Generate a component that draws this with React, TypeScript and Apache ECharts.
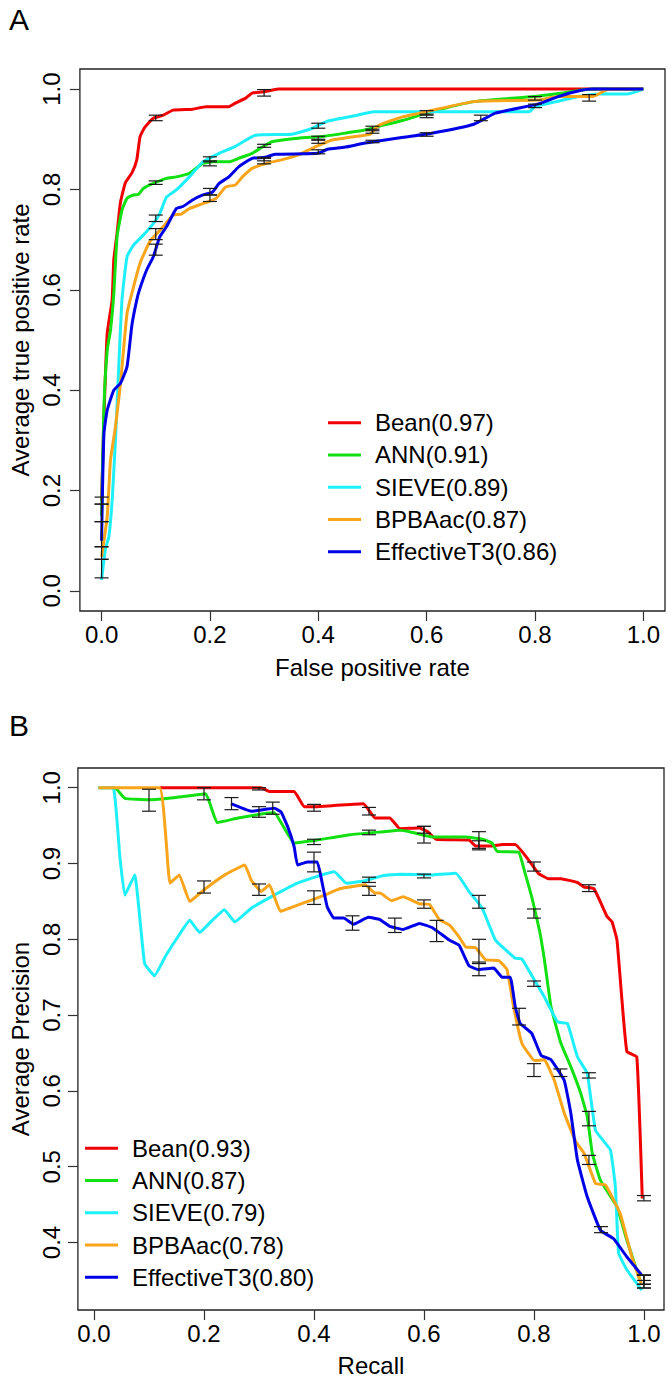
import React, { useEffect, useRef } from "react";
import * as echarts from "echarts";

const FONT = "'Liberation Sans', Arial, Helvetica, sans-serif";

const methods = ["Bean", "ANN", "SIEVE", "BPBAac", "EffectiveT3"];
const colors = ["#f00000", "#12e012", "#1ef0fa", "#f8a51c", "#0000e6"];
const rocAuc = ["0.97", "0.91", "0.89", "0.87", "0.86"];
const prAuc = ["0.93", "0.87", "0.79", "0.78", "0.80"];

const xTicks = [0, 0.2, 0.4, 0.6, 0.8, 1.0];
const rocYTicks = [0, 0.2, 0.4, 0.6, 0.8, 1.0];
const prYTicks = [0.4, 0.5, 0.6, 0.7, 0.8, 0.9, 1.0];

// ---- Panel A: ROC curves [false positive rate, average true positive rate]
const rocBean = [
  [0, 0.18], [0.0044, 0.347], [0.0104, 0.513], [0.0195, 0.58], [0.0226, 0.66], [0.0286, 0.713],
  [0.0347, 0.773], [0.0438, 0.813], [0.056, 0.833], [0.065, 0.859], [0.071, 0.905], [0.08, 0.924],
  [0.0955, 0.942], [0.114, 0.948], [0.132, 0.958], [0.168, 0.96], [0.193, 0.965], [0.235, 0.965],
  [0.247, 0.972], [0.266, 0.982], [0.278, 0.992], [0.302, 0.995], [0.326, 1.0], [1.0, 1.0],
];
const rocANN = [
  [0, 0.15], [0.0044, 0.367], [0.0104, 0.48], [0.0165, 0.52], [0.0226, 0.593], [0.0286, 0.706],
  [0.0377, 0.759], [0.0468, 0.782], [0.059, 0.789], [0.068, 0.79], [0.077, 0.802], [0.0955, 0.812],
  [0.12, 0.822], [0.138, 0.825], [0.162, 0.832], [0.174, 0.842], [0.187, 0.852], [0.205, 0.855],
  [0.235, 0.855], [0.253, 0.862], [0.278, 0.872], [0.296, 0.884], [0.314, 0.895], [0.363, 0.902],
  [0.411, 0.906], [0.454, 0.913], [0.484, 0.918], [0.508, 0.925], [0.557, 0.938], [0.609, 0.955],
  [0.687, 0.975], [0.797, 0.985], [0.843, 0.991], [0.906, 1.0], [1.0, 1.0],
];
const rocSIEVE = [
  [0, 0.022], [0.0073, 0.085], [0.0135, 0.108], [0.0195, 0.18], [0.0256, 0.3], [0.0317, 0.447],
  [0.0377, 0.58], [0.047, 0.666], [0.059, 0.689], [0.077, 0.709], [0.0955, 0.732], [0.1075, 0.752],
  [0.12, 0.785], [0.138, 0.799], [0.162, 0.825], [0.187, 0.855], [0.217, 0.872], [0.247, 0.886],
  [0.284, 0.908], [0.351, 0.91], [0.387, 0.921], [0.417, 0.936], [0.448, 0.943], [0.472, 0.948],
  [0.502, 0.955], [0.789, 0.955], [0.8, 0.965], [0.84, 0.975], [0.88, 0.985], [0.92, 0.99],
  [0.97, 0.99], [1.0, 1.0],
];
const rocBPBAac = [
  [0, 0.068], [0.0104, 0.148], [0.0165, 0.261], [0.0256, 0.327], [0.035, 0.414], [0.047, 0.553],
  [0.059, 0.606], [0.071, 0.653], [0.089, 0.696], [0.114, 0.726], [0.132, 0.749], [0.147, 0.751],
  [0.162, 0.762], [0.18, 0.769], [0.211, 0.782], [0.229, 0.805], [0.247, 0.809], [0.26, 0.825],
  [0.278, 0.842], [0.308, 0.853], [0.332, 0.859], [0.363, 0.869], [0.393, 0.884], [0.424, 0.898],
  [0.472, 0.906], [0.496, 0.91], [0.508, 0.925], [0.521, 0.932], [0.557, 0.945], [0.578, 0.95],
  [0.687, 0.975], [0.805, 0.978], [0.843, 0.985], [0.906, 0.985], [0.929, 0.997], [0.94, 1.0],
  [1.0, 1.0],
];
const rocEffectiveT3 = [
  [0, 0.1], [0.0013, 0.18], [0.0044, 0.314], [0.0104, 0.36], [0.0226, 0.4], [0.035, 0.414],
  [0.047, 0.447], [0.056, 0.53], [0.065, 0.58], [0.07, 0.6], [0.083, 0.639], [0.0955, 0.666],
  [0.1075, 0.706], [0.12, 0.726], [0.138, 0.762], [0.15, 0.766], [0.168, 0.779], [0.187, 0.789],
  [0.205, 0.795], [0.217, 0.812], [0.235, 0.825], [0.253, 0.845], [0.278, 0.862], [0.302, 0.864],
  [0.32, 0.87], [0.399, 0.872], [0.417, 0.88], [0.448, 0.884], [0.484, 0.892], [0.508, 0.896],
  [0.557, 0.904], [0.609, 0.912], [0.687, 0.93], [0.727, 0.952], [0.805, 0.97], [0.843, 0.985],
  [0.883, 0.997], [0.906, 1.0], [1.0, 1.0],
];

// ROC error bars [x, low, high]
const rocErrBean = [[0, 0.173, 0.187], [0.1, 0.937, 0.948], [0.3, 0.986, 0.999]];
const rocErrANN = [
  [0, 0.138, 0.173], [0.1, 0.81, 0.817], [0.2, 0.847, 0.857], [0.3, 0.884, 0.89], [0.4, 0.898, 0.906],
  [0.5, 0.917, 0.926], [0.6, 0.948, 0.957], [0.8, 0.978, 0.985],
];
const rocErrSIEVE = [[0, 0.026, 0.063], [0.1, 0.736, 0.749], [0.2, 0.855, 0.865], [0.4, 0.922, 0.932], [0.8, 0.963, 0.97]];
const rocErrBPBAac = [
  [0, 0.063, 0.088], [0.1, 0.7, 0.722], [0.2, 0.776, 0.789], [0.3, 0.851, 0.862], [0.4, 0.892, 0.9],
  [0.5, 0.912, 0.92], [0.6, 0.943, 0.95], [0.9, 0.976, 0.989],
];
const rocErrEffectiveT3 = [
  [0, 0.088, 0.138], [0.1, 0.669, 0.691], [0.2, 0.789, 0.802], [0.3, 0.857, 0.864], [0.4, 0.871, 0.879],
  [0.5, 0.893, 0.898], [0.6, 0.906, 0.913], [0.7, 0.937, 0.948],
];

// ---- Panel B: precision-recall curves [recall, average precision]
const prBean = [
  [0.12, 1.0], [0.304, 1.0], [0.319, 0.995], [0.364, 0.995], [0.382, 0.975], [0.406, 0.975],
  [0.49, 0.979], [0.511, 0.96], [0.538, 0.96], [0.556, 0.946], [0.592, 0.947], [0.607, 0.942],
  [0.622, 0.932], [0.682, 0.931], [0.694, 0.923], [0.724, 0.923], [0.742, 0.925], [0.766, 0.925],
  [0.79, 0.905], [0.808, 0.887], [0.826, 0.88], [0.849, 0.88], [0.879, 0.875], [0.891, 0.869],
  [0.909, 0.867], [0.933, 0.83], [0.942, 0.823], [0.951, 0.799], [0.96, 0.72], [0.969, 0.652],
  [0.987, 0.645], [0.997, 0.458],
];
const prANN = [
  [0.008, 1.0], [0.038, 1.0], [0.056, 0.986], [0.1, 0.984], [0.149, 0.987], [0.203, 0.992],
  [0.224, 0.954], [0.262, 0.96], [0.31, 0.966], [0.328, 0.967], [0.364, 0.927], [0.406, 0.931],
  [0.466, 0.938], [0.526, 0.942], [0.556, 0.944], [0.574, 0.942], [0.616, 0.935], [0.676, 0.935],
  [0.706, 0.932], [0.724, 0.927], [0.733, 0.916], [0.772, 0.915], [0.784, 0.887], [0.796, 0.856],
  [0.81, 0.812], [0.819, 0.773], [0.831, 0.711], [0.849, 0.663], [0.867, 0.632], [0.885, 0.597],
  [0.897, 0.566], [0.906, 0.518], [0.921, 0.482], [0.951, 0.447], [0.969, 0.403], [0.993, 0.35],
];
const prSIEVE = [
  [0.008, 1.0], [0.035, 1.0], [0.047, 0.909], [0.056, 0.858], [0.074, 0.885], [0.092, 0.768],
  [0.11, 0.752], [0.131, 0.779], [0.155, 0.806], [0.174, 0.825], [0.192, 0.809], [0.215, 0.825],
  [0.237, 0.839], [0.256, 0.823], [0.286, 0.841], [0.322, 0.856], [0.37, 0.874], [0.406, 0.883],
  [0.437, 0.889], [0.459, 0.874], [0.49, 0.877], [0.526, 0.884], [0.556, 0.886], [0.616, 0.885],
  [0.658, 0.887], [0.682, 0.863], [0.706, 0.841], [0.73, 0.799], [0.766, 0.775], [0.778, 0.774],
  [0.801, 0.746], [0.819, 0.724], [0.843, 0.691], [0.861, 0.689], [0.879, 0.645], [0.897, 0.623],
  [0.912, 0.548], [0.939, 0.522], [0.948, 0.474], [0.954, 0.386], [0.969, 0.364], [0.996, 0.337],
];
const prBPBAac = [
  [0.008, 1.0], [0.119, 1.0], [0.131, 0.931], [0.138, 0.874], [0.155, 0.885], [0.174, 0.85],
  [0.203, 0.867], [0.238, 0.885], [0.274, 0.898], [0.286, 0.878], [0.304, 0.863], [0.319, 0.872],
  [0.339, 0.837], [0.37, 0.845], [0.418, 0.858], [0.448, 0.867], [0.493, 0.872], [0.511, 0.861],
  [0.52, 0.861], [0.541, 0.851], [0.562, 0.856], [0.592, 0.847], [0.61, 0.846], [0.628, 0.826],
  [0.646, 0.819], [0.664, 0.803], [0.676, 0.79], [0.694, 0.789], [0.712, 0.773], [0.736, 0.772],
  [0.751, 0.76], [0.763, 0.711], [0.778, 0.663], [0.801, 0.64], [0.819, 0.641], [0.837, 0.614],
  [0.855, 0.571], [0.876, 0.533], [0.891, 0.518], [0.912, 0.478], [0.93, 0.476], [0.957, 0.438],
  [0.978, 0.381], [0.996, 0.344],
];
const prEffectiveT3 = [
  [0.249, 0.979], [0.286, 0.969], [0.328, 0.973], [0.34, 0.968], [0.352, 0.949], [0.364, 0.922],
  [0.37, 0.898], [0.388, 0.902], [0.406, 0.902], [0.415, 0.874], [0.424, 0.843], [0.436, 0.828],
  [0.454, 0.828], [0.472, 0.82], [0.499, 0.829], [0.52, 0.826], [0.538, 0.817], [0.562, 0.813],
  [0.592, 0.821], [0.616, 0.815], [0.646, 0.799], [0.664, 0.792], [0.682, 0.765], [0.7, 0.76],
  [0.727, 0.762], [0.742, 0.75], [0.757, 0.75], [0.766, 0.711], [0.775, 0.689], [0.796, 0.676],
  [0.813, 0.647], [0.831, 0.641], [0.855, 0.614], [0.867, 0.571], [0.879, 0.509], [0.897, 0.46],
  [0.921, 0.416], [0.945, 0.405], [0.969, 0.381], [0.996, 0.357],
];

// PR error bars [x, low, high]
const prErrBean = [
  [0.3, 0.997, 1.0], [0.4, 0.969, 0.978], [0.5, 0.964, 0.974], [0.6, 0.94, 0.949], [0.7, 0.92, 0.93],
  [0.8, 0.89, 0.902], [0.9, 0.863, 0.872], [1.0, 0.455, 0.462],
];
const prErrANN = [
  [0.1, 0.969, 0.998], [0.2, 0.984, 1.0], [0.3, 0.961, 0.975], [0.4, 0.925, 0.932], [0.5, 0.938, 0.944],
  [0.6, 0.927, 0.949], [0.7, 0.918, 0.942], [0.8, 0.828, 0.84], [0.9, 0.554, 0.573], [1.0, 0.34, 0.357],
];
const prErrSIEVE = [
  [0.5, 0.875, 0.882], [0.6, 0.881, 0.886], [0.7, 0.841, 0.858], [0.8, 0.738, 0.745], [0.9, 0.617, 0.624],
  [1.0, 0.34, 0.35],
];
const prErrBPBAac = [
  [0.2, 0.861, 0.877], [0.3, 0.858, 0.873], [0.4, 0.846, 0.864], [0.5, 0.858, 0.87], [0.6, 0.841, 0.852],
  [0.7, 0.768, 0.8], [0.8, 0.619, 0.636], [0.9, 0.503, 0.515], [1.0, 0.345, 0.357],
];
const prErrEffectiveT3 = [
  [0.25, 0.971, 0.987], [0.325, 0.965, 0.981], [0.4, 0.889, 0.915], [0.47, 0.812, 0.831], [0.547, 0.809, 0.828],
  [0.623, 0.797, 0.825], [0.7, 0.752, 0.77], [0.773, 0.687, 0.709], [0.848, 0.619, 0.629], [0.922, 0.413, 0.421],
  [1.0, 0.345, 0.357],
];

const rocCurves = [rocBean, rocANN, rocSIEVE, rocBPBAac, rocEffectiveT3];
const prCurves = [prBean, prANN, prSIEVE, prBPBAac, prEffectiveT3];
const rocErrors = [rocErrBean, rocErrANN, rocErrSIEVE, rocErrBPBAac, rocErrEffectiveT3];
const prErrors = [prErrBean, prErrANN, prErrSIEVE, prErrBPBAac, prErrEffectiveT3];

const AXIS_COLOR = "#333";

function errorBarRender(params: any, api: any) {
  const x = api.value(0);
  const p1 = api.coord([x, api.value(1)]);
  const p2 = api.coord([x, api.value(2)]);
  const w = 7;
  const style = { stroke: "#1a1a1a", lineWidth: 1.2 };
  return {
    type: "group",
    children: [
      { type: "line", shape: { x1: p1[0], y1: p1[1], x2: p2[0], y2: p2[1] }, style },
      { type: "line", shape: { x1: p1[0] - w, y1: p1[1], x2: p1[0] + w, y2: p1[1] }, style },
      { type: "line", shape: { x1: p2[0] - w, y1: p2[1], x2: p2[0] + w, y2: p2[1] }, style },
    ],
  };
}

function makeXAxis(gridIndex: number, min: number, max: number, name: string, nameGap: number) {
  return {
    type: "value",
    gridIndex,
    min,
    max,
    name,
    nameLocation: "middle",
    nameGap,
    nameTextStyle: { fontFamily: FONT, fontSize: 24, color: "#000" },
    axisLine: { show: false, onZero: false },
    splitLine: { show: false },
    axisTick: { show: true, length: 10, customValues: xTicks, lineStyle: { color: AXIS_COLOR, width: 1.2 } },
    axisLabel: {
      show: true,
      customValues: xTicks,
      margin: 11,
      fontFamily: FONT,
      fontSize: 24,
      color: "#000",
      formatter: (v: number) => v.toFixed(1),
    },
  };
}

function makeYAxis(gridIndex: number, min: number, max: number, ticks: number[], name: string, nameGap: number, margin: number) {
  return {
    type: "value",
    gridIndex,
    min,
    max,
    name,
    nameLocation: "middle",
    nameGap,
    nameRotate: 90,
    nameTextStyle: { fontFamily: FONT, fontSize: 24, color: "#000" },
    axisLine: { show: false, onZero: false },
    splitLine: { show: false },
    axisTick: { show: true, length: 10, customValues: ticks, lineStyle: { color: AXIS_COLOR, width: 1.2 } },
    axisLabel: {
      show: true,
      customValues: ticks,
      rotate: 90,
      margin,
      fontFamily: FONT,
      fontSize: 24,
      color: "#000",
      formatter: (v: number) => v.toFixed(1),
    },
  };
}

function legendGraphic(x0: number, y0: number, gap: number, labels: string[]) {
  const children: any[] = [];
  labels.forEach((label, i) => {
    const y = y0 + i * gap;
    children.push({
      type: "line",
      shape: { x1: x0, y1: y, x2: x0 + 33, y2: y },
      style: { stroke: colors[i], lineWidth: 3 },
    });
    children.push({
      type: "text",
      x: x0 + 47,
      y,
      style: { text: label, fontFamily: FONT, fontSize: 24, fill: "#000", verticalAlign: "middle", align: "left" },
    });
  });
  return { type: "group", children };
}

export default function App() {
  const ref = useRef<HTMLDivElement>(null);

  useEffect(() => {
    if (!ref.current) return;
    const chart = echarts.init(ref.current, undefined, { renderer: "svg" });

    const series: any[] = [];
    methods.forEach((m, i) => {
      series.push({
        name: `${m}(${rocAuc[i]})`,
        type: "line",
        xAxisIndex: 0,
        yAxisIndex: 0,
        data: rocCurves[i],
        symbol: "none",
        smooth: 0.15,
        lineStyle: { color: colors[i], width: 3 },
        z: 2 + i,
      });
    });
    methods.forEach((m, i) => {
      series.push({
        name: `${m}(${prAuc[i]})`,
        type: "line",
        xAxisIndex: 1,
        yAxisIndex: 1,
        data: prCurves[i],
        symbol: "none",
        smooth: 0.1,
        lineStyle: { color: colors[i], width: 3 },
        z: 2 + i,
      });
    });
    methods.forEach((m, i) => {
      series.push({
        name: `${m} ROC error`,
        type: "custom",
        xAxisIndex: 0,
        yAxisIndex: 0,
        data: rocErrors[i],
        encode: { x: 0, y: [1, 2] },
        renderItem: errorBarRender,
        clip: false,
        z: 10,
      });
      series.push({
        name: `${m} PR error`,
        type: "custom",
        xAxisIndex: 1,
        yAxisIndex: 1,
        data: prErrors[i],
        encode: { x: 0, y: [1, 2] },
        renderItem: errorBarRender,
        clip: false,
        z: 10,
      });
    });

    const option: any = {
      animation: false,
      backgroundColor: "#ffffff",
      grid: [
        { left: 73, top: 69, width: 592, height: 542, show: true, borderColor: "#222", borderWidth: 1.3, backgroundColor: "transparent" },
        { left: 71, top: 768, width: 593, height: 542, show: true, borderColor: "#222", borderWidth: 1.3, backgroundColor: "transparent" },
      ],
      xAxis: [
        makeXAxis(0, -0.04, 1.04, "False positive rate", 44),
        makeXAxis(1, -0.0293, 1.0365, "Recall", 43.5),
      ],
      yAxis: [
        makeYAxis(0, -0.04, 1.04, rocYTicks, "Average true positive rate", 45, 16),
        makeYAxis(1, 0.311, 1.026, prYTicks, "Average Precision", 43.5, 14),
      ],
      series,
      graphic: [
        { type: "text", x: 9, y: 19.5, style: { text: "A", fontFamily: FONT, fontSize: 30, fill: "#000", verticalAlign: "middle" } },
        { type: "text", x: 9, y: 725, style: { text: "B", fontFamily: FONT, fontSize: 30, fill: "#000", verticalAlign: "middle" } },
        legendGraphic(328, 422.7, 32.25, methods.map((m, i) => `${m}(${rocAuc[i]})`)),
        legendGraphic(85, 1148.3, 32.25, methods.map((m, i) => `${m}(${prAuc[i]})`)),
      ],
    };
    chart.setOption(option);
    return () => chart.dispose();
  }, []);

  return (
    <div
      ref={ref}
      style={{ position: "absolute", left: 0, top: 0, width: 672, height: 1381, background: "#fff" }}
    />
  );
}
